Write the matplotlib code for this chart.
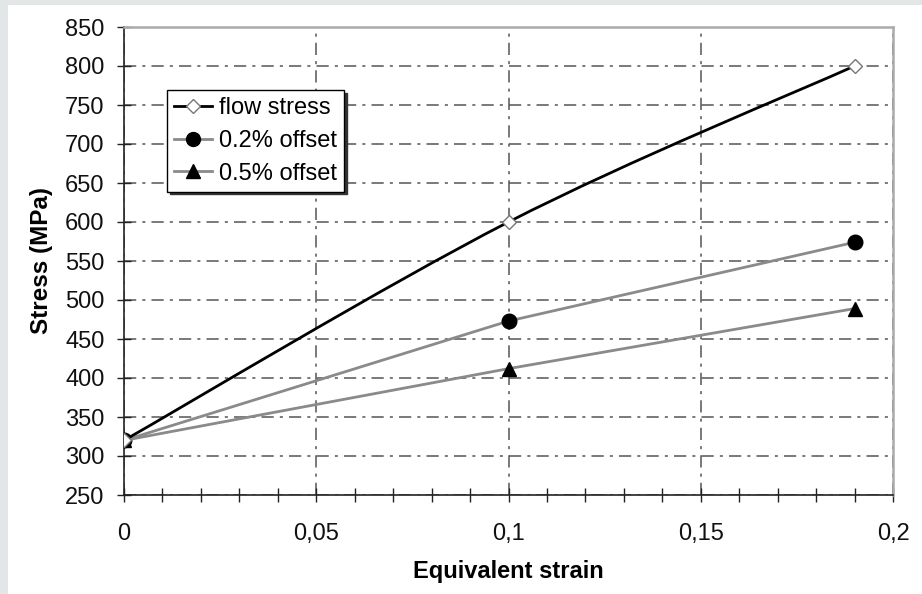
import numpy as np
import matplotlib
matplotlib.use('Agg')
import matplotlib.pyplot as plt
from matplotlib.path import Path
from matplotlib.patches import PathPatch, Rectangle
from matplotlib.lines import Line2D
from matplotlib.ticker import MultipleLocator, FuncFormatter

plt.rcParams['font.family'] = ['Liberation Sans', 'DejaVu Sans']

# data
strain = [0.0, 0.1, 0.19]
flow_stress = [320, 600, 800]
offset_02 = [320, 473, 574]
offset_05 = [320, 412, 489]

fig = plt.figure(figsize=(9.22, 5.94), dpi=100)
fig.patch.set_facecolor('#e2e6e7')
fig.patches.append(Rectangle((8 / 922, 0), 1, 1 - 5 / 594, transform=fig.transFigure,
                             facecolor='white', edgecolor='none', zorder=-10))

ax = fig.add_axes([124 / 922, 1 - 495 / 594, (893 - 124) / 922, (495 - 27) / 594])
ax.set_xlim(0, 0.2)
ax.set_ylim(250, 850)

# smoothed line (Excel-like Catmull-Rom bezier through the points)
pts = np.column_stack([strain, flow_stress]).astype(float)
verts = [pts[0]]
codes = [Path.MOVETO]
for i in range(len(pts) - 1):
    p0 = pts[i - 1] if i > 0 else pts[i]
    p1, p2 = pts[i], pts[i + 1]
    p3 = pts[i + 2] if i + 2 < len(pts) else pts[i + 1]
    verts += [p1 + (p2 - p0) / 6, p2 - (p3 - p1) / 6, p2]
    codes += [Path.CURVE4] * 3
ax.add_patch(PathPatch(Path(verts, codes), fill=False, edgecolor='black', lw=2.0, zorder=4))
ax.plot(strain, flow_stress, ls='none', marker='D', ms=7, mfc='white', mec='#777777',
        mew=1, zorder=5)

ax.plot(strain, offset_02, color='#8a8a8a', lw=2.0, marker='o', ms=10.5, mfc='black',
        mec='black', zorder=3)
ax.plot(strain, offset_05, color='#8a8a8a', lw=2.0, marker='^', ms=10.5, mfc='black',
        mec='black', zorder=3)

ax.xaxis.set_major_locator(MultipleLocator(0.05))
ax.xaxis.set_minor_locator(MultipleLocator(0.01))
ax.yaxis.set_major_locator(MultipleLocator(50))
ax.xaxis.set_major_formatter(FuncFormatter(lambda v, p: ('%g' % round(v, 3)).replace('.', ',')))
ax.tick_params(axis='both', which='both', direction='inout', length=10, width=1,
               color='#222222', labelsize=17, labelcolor='#111111')
ax.tick_params(axis='x', pad=15)
ax.tick_params(axis='y', pad=9)

ax.grid(True, which='major', color='#555555', lw=1.1, dashes=(8, 4, 2, 4))
ax.set_axisbelow(True)

for s in ['left', 'bottom']:
    ax.spines[s].set_color('#222222')
    ax.spines[s].set_linewidth(1.2)
for s in ['top', 'right']:
    ax.spines[s].set_color('#aaaaaa')
    ax.spines[s].set_linewidth(1.8)

ax.set_xlabel('Equivalent strain', fontsize=17, fontweight='bold', labelpad=11)
ax.set_ylabel('Stress (MPa)', fontsize=17.5, fontweight='bold', labelpad=9)

handles = [
    Line2D([], [], color='black', lw=2.0, marker='D', ms=7, mfc='white', mec='#777777'),
    Line2D([], [], color='#8a8a8a', lw=2.0, marker='o', ms=10, mfc='black', mec='black'),
    Line2D([], [], color='#8a8a8a', lw=2.0, marker='^', ms=10, mfc='black', mec='black'),
]
leg = ax.legend(handles, ['flow stress', '0.2% offset', '0.5% offset'],
                loc='upper left', bbox_to_anchor=(0.056, 0.865), borderaxespad=0,
                fontsize=17, fancybox=False, shadow={'color': '#333333', 'alpha': 1},
                framealpha=1, edgecolor='black', handlelength=1.6, handletextpad=0.3,
                labelspacing=0.45, borderpad=0.3)
leg.get_frame().set_linewidth(1.0)
leg.set_zorder(10)

fig.savefig('out.png', dpi=100, facecolor=fig.get_facecolor())
